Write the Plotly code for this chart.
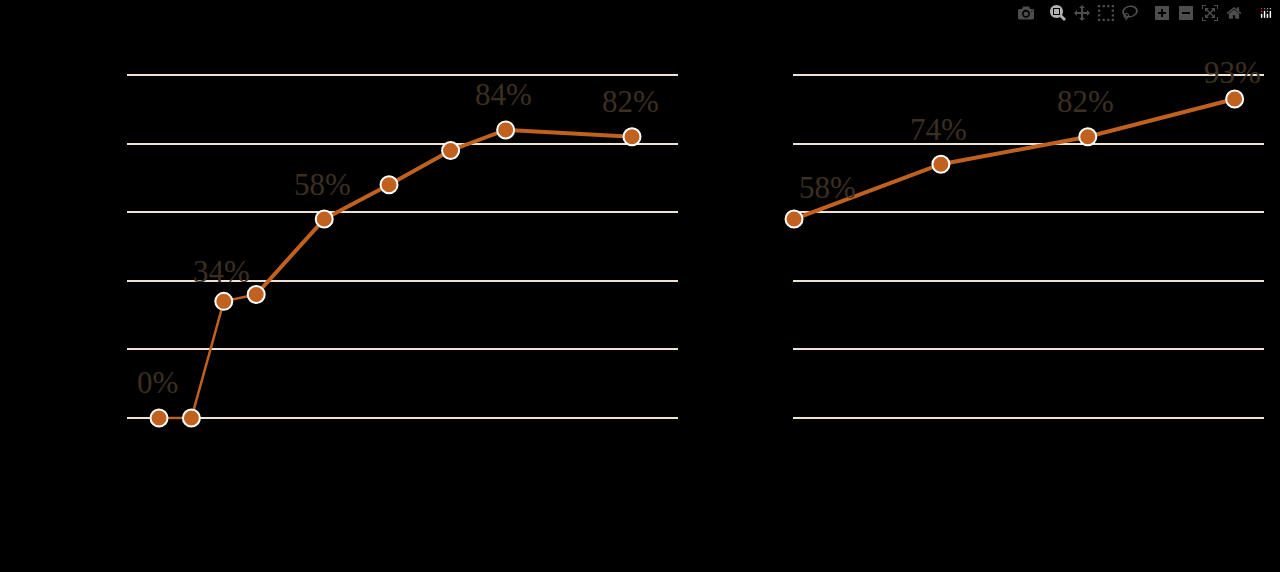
import plotly.graph_objects as go

left_x = [1, 2, 3, 4, 6.1, 8.1, 10, 11.7, 15.6]
left_y = [0, 0, 34, 36, 58, 68, 78, 84, 82]
left_labels = ["0%", "", "34%", "", "58%", "", "", "84%", "82%"]
right_x = [0, 1, 2, 3]
right_y = [58, 74, 82, 93]
right_labels = ["58%", "74%", "82%", "93%"]

LINE = "#c0611f"
TXT = "#3b2f22"
FONT = dict(family="Liberation Serif", size=31, color=TXT)
fig = go.Figure()
fig.add_trace(go.Scatter(x=left_x[:4], y=left_y[:4], mode="lines", line=dict(color=LINE, width=2.5), xaxis="x", yaxis="y", cliponaxis=False))
fig.add_trace(go.Scatter(x=left_x[3:], y=left_y[3:], mode="lines", line=dict(color=LINE, width=4), xaxis="x", yaxis="y", cliponaxis=False))
fig.add_trace(go.Scatter(x=left_x, y=left_y, mode="markers", marker=dict(color=LINE, size=17, line=dict(color="white", width=2)), xaxis="x", yaxis="y", cliponaxis=False))
fig.add_trace(go.Scatter(x=right_x, y=right_y, mode="lines+markers", line=dict(color=LINE, width=4),
                         marker=dict(color=LINE, size=17, line=dict(color="white", width=2)), xaxis="x2", yaxis="y2", cliponaxis=False))

ann = []
for xv, yv, t in zip(left_x, left_y, left_labels):
    if t:
        ann.append(dict(x=xv, y=yv, xref="x", yref="y", text=t, showarrow=False,
                        yshift=30 if t == "34%" else 35, xshift=-2 if t == "34%" else -2, font=FONT))
for i, (xv, yv, t) in enumerate(zip(right_x, right_y, right_labels)):
    ann.append(dict(x=xv, y=yv, xref="x2", yref="y2", text=t, showarrow=False,
                    yshift=27 if i == 3 else (32 if i == 0 else 35), xshift=33 if i == 0 else -2, font=FONT))

yax = dict(range=[-0.5, 100.5], tickvals=[0, 20, 40, 60, 80, 100], showticklabels=False, showgrid=True,
           gridcolor="#eee3d0", gridwidth=2, zeroline=False, domain=[0.2663, 0.8718])
fig.update_layout(
    width=1280, height=572, paper_bgcolor="black", plot_bgcolor="black", showlegend=False,
    margin=dict(l=0, r=0, t=0, b=0), annotations=ann,
    xaxis=dict(domain=[127/1280, 678/1280], range=[0.012, 17.02], visible=False),
    xaxis2=dict(domain=[793/1280, 1264/1280], range=[-0.007, 3.2], visible=False),
    yaxis=dict(**yax, anchor="x"),
    yaxis2=dict(**yax, anchor="x2"),
)
html = fig.to_html(include_plotlyjs=True, full_html=True)
html = html.replace("<body>", '<body style="margin:0;padding:0;background:black;overflow:hidden">', 1)
with open("out.html", "w", encoding="utf-8") as f:
    f.write(html)
